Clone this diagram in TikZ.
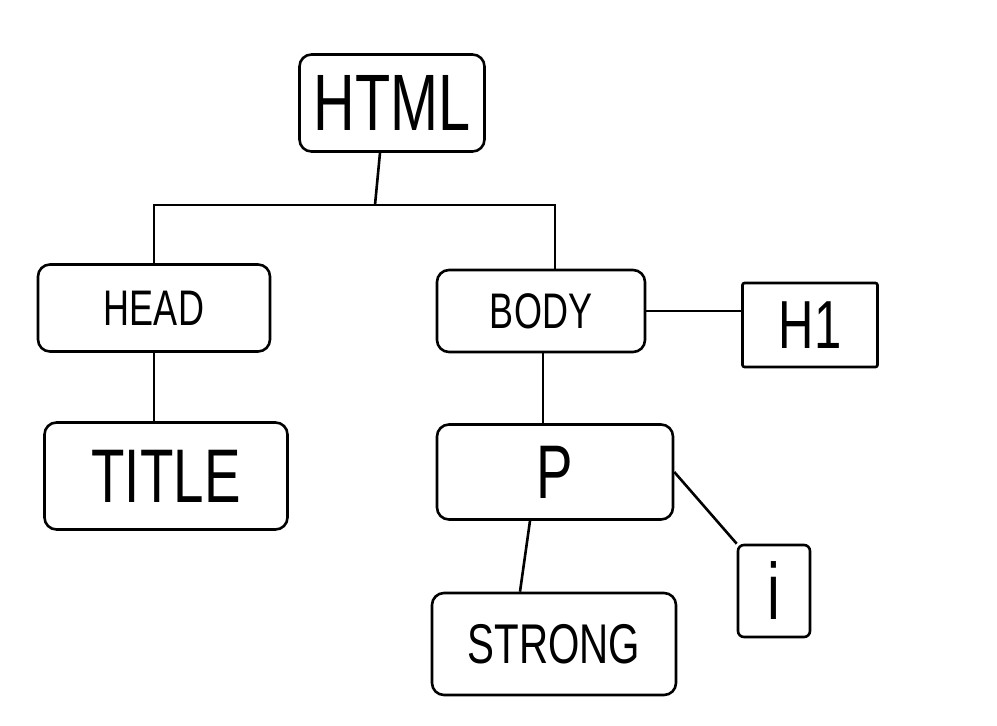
\documentclass[tikz,border=0pt]{standalone}
\usepackage{fontspec}
\setmainfont{Liberation Sans}
\usepackage{graphicx}
\usetikzlibrary{positioning}
\newcommand{\handtxt}[2]{\fontsize{#1}{#1}\selectfont\scalebox{0.72}[1]{#2}}
\tikzset{
  tag/.style={draw,line width=2.6pt,rounded corners=12pt,inner sep=0pt},
  link/.style={line width=2.6pt},
}
\begin{document}
\begin{tikzpicture}[x=1pt,y=-1pt]
\useasboundingbox (0,0) rectangle (997,726);
\path (392,103) node[tag,minimum width=185pt,minimum height=97pt] (html) {\handtxt{80}{HTML}};
\path (154,308) node[tag,minimum width=232pt,minimum height=87pt] (head) {\handtxt{50}{HEAD}};
\path (541,311) node[tag,minimum width=208pt,minimum height=82pt] (body) {\handtxt{50}{BODY}};
\path (810,325) node[tag,rounded corners=2pt,minimum width=135pt,minimum height=84pt] (h1) {\handtxt{68}{H1}};
\path (166,476) node[tag,minimum width=243pt,minimum height=107pt] (title) {\handtxt{76}{TITLE}};
\path (555,472) node[tag,minimum width=236pt,minimum height=95pt] (p) {\handtxt{76}{P}};
\path (774,591) node[tag,rounded corners=6pt,minimum width=72pt,minimum height=92pt] (i) {\handtxt{80}{i}};
\path (554,644) node[tag,minimum width=244pt,minimum height=102pt] (strong) {\handtxt{56}{STRONG}};

\coordinate (bus) at (375,205);

\draw[link] ([xshift=-12pt]html.south) to (bus);
\draw[link] (head.north) |- (bus) -| ([xshift=14pt]body.north);
\draw[link] (head.south) to (head.south |- title.north);
\draw[link] (body.east) to (body.east -| h1.west);
\draw[link] ([xshift=2pt]body.south) to ([xshift=2pt]body.south |- p.north);
\draw[link] ([xshift=-25pt]p.south) to ([xshift=-34pt]strong.north);
\draw[link] (p.east) to (i.north west);
\end{tikzpicture}
\end{document}
